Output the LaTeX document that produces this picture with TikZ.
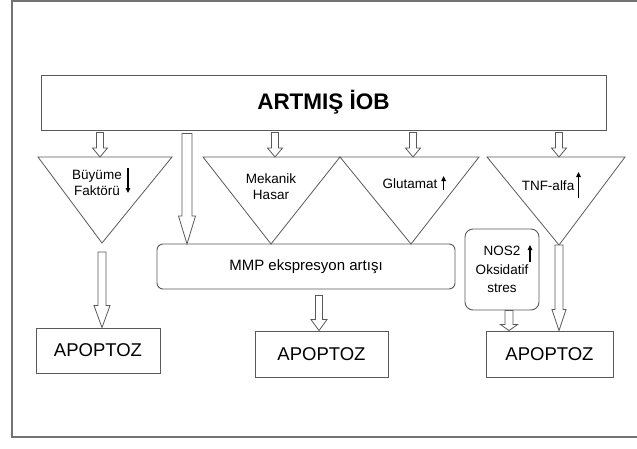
\documentclass[tikz,border=0pt]{standalone}
\usepackage{fontspec}
\setmainfont{Liberation Sans}
\usetikzlibrary{arrows.meta,calc}
\definecolor{linegray}{gray}{0.35}
\definecolor{framegray}{gray}{0.45}
\tikzset{
  box/.style={draw=linegray, line width=0.9pt, inner sep=0pt, font=\fontsize{18.5}{22}\selectfont},
  roundbox/.style={draw=linegray, line width=0.9pt, inner sep=0pt, align=center},
  lbl/.style={inner sep=0pt, align=center, font=\fontsize{13.5}{16}\selectfont},
  tri/.style={draw=linegray, line width=0.8pt, line join=miter},
  updown/.style={line width=1.1pt, -{Triangle[length=5pt,width=4.5pt]}},
  blockarrow/.style n args={3}{draw=linegray, line width=0.8pt, fill=white,
    to path={let \p1=(\tikztostart), \p2=(\tikztotarget) in
      (\x1-#1,\y1) -- (\x1-#1,\y2+#3) -- (\x1-#2,\y2+#3) -- (\x1,\y2)
      -- (\x1+#2,\y2+#3) -- (\x1+#1,\y2+#3) -- (\x1+#1,\y1) -- cycle}},
  smallarrow/.style={blockarrow={3.5pt}{7.5pt}{9pt}}
}
\begin{document}
\begin{tikzpicture}[x=1pt,y=-1pt]
  \useasboundingbox (0,0) rectangle (637,448);
  % frame
  \draw[framegray, line width=1.2pt] (637,1) -- (12,1) -- (12,437) -- (637,437);

  % top box
  \node[box, minimum width=565pt, minimum height=55pt, font=\fontsize{22.5}{26}\bfseries] (artmis) at (323.5,102.5) {ARTMIŞ İOB};

  % triangles
  \coordinate (bfin) at (100,157);  \coordinate (bftip) at (102,243);
  \coordinate (mekin) at (275,157); \coordinate (mektip) at (271,244);
  \coordinate (gluin) at (413,157); \coordinate (glutip) at (411,244);
  \coordinate (tnfin) at (559,157); \coordinate (tnftip) at (559,245);
  \draw[tri] (38,157) -- (172,157) -- (bftip) -- cycle;
  \draw[tri] (203,157) -- (340,157) -- (mektip) -- cycle;
  \draw[tri] (340,157) -- (479,157) -- (glutip) -- cycle;
  \draw[tri] (487,157) -- (625,157) -- (tnftip) -- cycle;

  \node[lbl] (bf) at (97,183) {Büyüme\\Faktörü};
  \node[lbl] (mek) at (271,187) {Mekanik\\Hasar};
  \node[lbl] (glu) at (410,184) {Glutamat};
  \node[lbl] (tnf) at (548,186) {TNF-alfa};
  \draw[updown] ($(bf.east)+(6,-15)$) -- ($(bf.east)+(6,10)$);
  \draw[updown] ($(glu.east)+(6,6)$) -- ($(glu.east)+(6,-8)$);
  \draw[updown] ($(tnf.east)+(4,12)$) -- ($(tnf.east)+(4,-14)$);

  % middle boxes
  \node[roundbox, rounded corners=6pt, minimum width=298pt, minimum height=45pt,
        font=\fontsize{15}{18}\selectfont] (mmp) at (306,266.5) {MMP ekspresyon artışı};
  \node[roundbox, rounded corners=8pt, minimum width=74pt, minimum height=81pt,
        font=\fontsize{13.5}{18.5}\selectfont] (nos) at (502,269.5) {NOS2\\Oksidatif\\stres};
  \draw[updown] ($(nos.center)+(28,-7.5)$) -- ($(nos.center)+(28,-24.5)$);
  \coordinate (mmpin) at (187,244);

  % apoptoz boxes
  \node[box, minimum width=124pt, minimum height=45pt] (apo1) at (98,350.5) {APOPTOZ};
  \node[box, minimum width=133pt, minimum height=46pt] (apo2) at (321.5,354) {APOPTOZ};
  \node[box, minimum width=127pt, minimum height=46pt] (apo3) at (549.5,354) {APOPTOZ};

  % block arrows
  \draw[smallarrow] ($(artmis.south -| bfin)+(0,2)$) to (bfin);
  \draw[smallarrow] ($(artmis.south -| mekin)+(0,2)$) to (mekin);
  \draw[smallarrow] ($(artmis.south -| gluin)+(0,2)$) to (gluin);
  \draw[smallarrow] ($(artmis.south -| tnfin)+(0,2)$) to (tnfin);
  \draw[blockarrow={5pt}{8.5pt}{28pt}] ($(artmis.south -| mmpin)+(0,3)$) to (mmpin);
  \draw[blockarrow={4pt}{8pt}{22pt}] ($(bftip)+(0,9)$) to (bftip |- apo1.north);
  \draw[blockarrow={3.5pt}{8pt}{11pt}] ($(mmp.south)+(13,6)$) to ($(mmp.south |- apo2.north)+(13,0)$);
  \draw[blockarrow={4pt}{8.5pt}{6pt}] ($(nos.south)+(7,0)$) to ($(nos.south |- apo3.north)+(7,0)$);
  \draw[blockarrow={4pt}{7pt}{21pt}] (tnftip) to (tnftip |- apo3.north);
\end{tikzpicture}
\end{document}
